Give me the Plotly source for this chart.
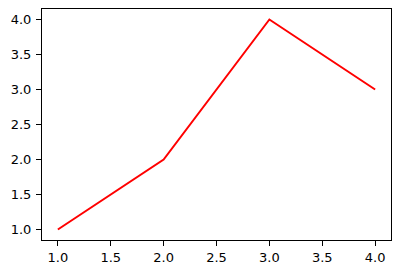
import plotly.graph_objects as go

x_vals = [1, 2, 3, 4]
y_vals = [1, 2, 4, 3]
x_ticks = [1.0, 1.5, 2.0, 2.5, 3.0, 3.5, 4.0]
y_ticks = [1.0, 1.5, 2.0, 2.5, 3.0, 3.5, 4.0]

fig = go.Figure()
fig.add_trace(go.Scatter(x=x_vals, y=y_vals, mode="lines",
                         line=dict(color="#ff0000", width=2)))

axis_common = dict(showline=True, linecolor="black", linewidth=1, mirror=True,
                   ticks="outside", ticklen=5, tickwidth=1, tickcolor="black",
                   showgrid=False, zeroline=False,
                   tickfont=dict(family="DejaVu Sans", size=13, color="black"))

fig.update_layout(
    width=400, height=274,
    margin=dict(l=42, r=9, t=9, b=34),
    paper_bgcolor="white", plot_bgcolor="white",
    showlegend=False,
    xaxis=dict(range=[0.85, 4.15], tickvals=x_ticks,
               ticktext=[f"{v:.1f}" for v in x_ticks], **axis_common),
    yaxis=dict(range=[0.85, 4.15], tickvals=y_ticks,
               ticktext=[f"{v:.1f}" for v in y_ticks], ticklabelstandoff=2,
               **axis_common),
)

fig.write_html("out.html")
